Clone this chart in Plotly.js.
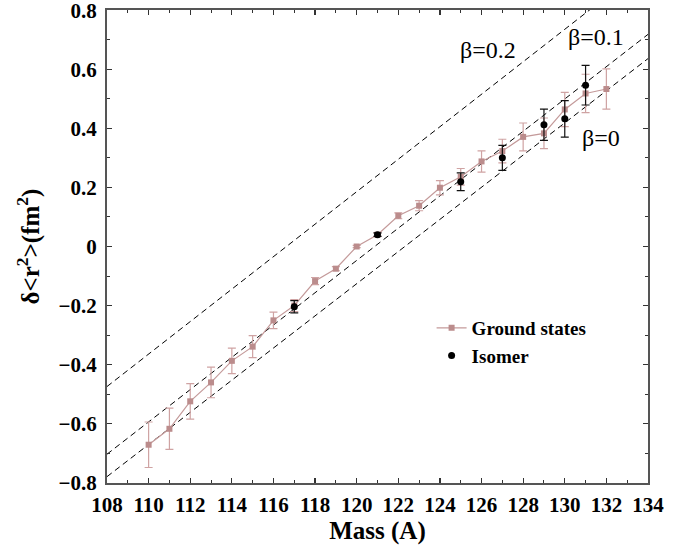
<!DOCTYPE html>
<html>
<head>
<meta charset="utf-8">
<script src="https://cdn.plot.ly/plotly-3.0.1.min.js"></script>
<style>html,body{margin:0;padding:0;background:#fff;}#chart{width:695px;height:550px;}</style>
</head>
<body>
<div id="chart"></div>
<script>
// Ground states
const groundMass = [110,111,112,113,114,115,116,117,118,119,120,121,122,123,124,125,126,127,128,129,130,131,132];
const groundVal  = [-0.671,-0.617,-0.524,-0.460,-0.387,-0.339,-0.250,-0.200,-0.117,-0.075,0.000,0.040,0.104,0.138,0.199,0.236,0.288,0.323,0.371,0.383,0.464,0.518,0.533];
const groundErr  = [0.077,0.070,0.060,0.052,0.043,0.037,0.028,0.020,0.012,0.007,0.004,0.006,0.010,0.017,0.024,0.028,0.036,0.040,0.047,0.052,0.058,0.065,0.068];
// Isomers
const isoMass = [117,121,125,127,129,130,131];
const isoVal  = [-0.204,0.040,0.219,0.300,0.412,0.432,0.546];
const isoErr  = [0.021,0.006,0.030,0.042,0.053,0.062,0.067];
// Reference lines (beta deformation)
const lineMass = [108,134];
const beta0  = [-0.779,0.636];
const beta01 = [-0.703,0.718];
const beta02 = [-0.474,0.955];
const betaLabels = ['β=0.2','β=0.1','β=0'];
// Tick labels
const xTickVals = [108,110,112,114,116,118,120,122,124,126,128,130,132,134];
const yTickVals = [-0.8,-0.6,-0.4,-0.2,0,0.2,0.4,0.6,0.8];
const yTickText = ['−0.8','−0.6','−0.4','−0.2','0','0.2','0.4','0.6','0.8'];

const serif = "'Liberation Serif', 'Times New Roman', serif";
const dashLine = {color:'#000', width:1, dash:'6px,4px'};
const tickFont = {family:serif, size:21, color:'#000', weight:'bold'};

const traces = [
  {x:lineMass, y:beta0, mode:'lines', line:dashLine, showlegend:false, hoverinfo:'skip'},
  {x:lineMass, y:beta01, mode:'lines', line:dashLine, showlegend:false, hoverinfo:'skip'},
  {x:lineMass, y:beta02, mode:'lines', line:dashLine, showlegend:false, hoverinfo:'skip'},
  {x:groundMass, y:groundVal, name:'Ground states', mode:'lines+markers',
   line:{color:'#c49a9a', width:1.2},
   marker:{symbol:'square', size:6, color:'#bb8c8c'},
   error_y:{type:'data', array:groundErr, visible:true, color:'#cfa3a3', thickness:1.2, width:4}},
  {x:isoMass, y:isoVal, name:'Isomer', mode:'markers',
   marker:{symbol:'circle', size:7, color:'#000'},
   error_y:{type:'data', array:isoErr, visible:true, color:'#111', thickness:1.2, width:4}}
];

const layout = {
  width:695, height:550,
  margin:{l:107, r:47, t:10, b:67},
  paper_bgcolor:'#fff', plot_bgcolor:'#fff',
  font:{family:serif, color:'#000', size:21},
  xaxis:{
    showline:true, linecolor:'#555', linewidth:2, mirror:'ticks',
    ticks:'inside', ticklen:5, tickwidth:1.2, tickcolor:'#333',
    showgrid:false, zeroline:false,
    tickfont:tickFont, ticklabelstandoff:2, ticklabeloverflow:'allow',
    range:[108,134], tickmode:'array', tickvals:xTickVals,
    ticktext:xTickVals.map(v => '<b>' + v + '</b>'),
    minor:{dtick:1, ticks:'inside', ticklen:3, tickcolor:'#333', tickwidth:1},
    title:{text:'<b>Mass (A)</b>', font:{family:serif, size:25, color:'#000'}, standoff:2}
  },
  yaxis:{
    showline:true, linecolor:'#555', linewidth:2, mirror:'ticks',
    ticks:'inside', ticklen:5, tickwidth:1.2, tickcolor:'#333',
    showgrid:false, zeroline:false,
    tickfont:tickFont, ticklabelstandoff:4, ticklabeloverflow:'allow',
    range:[-0.8005,0.8005], tickmode:'array', tickvals:yTickVals,
    ticktext:yTickText.map(t => '<b>' + t + '</b>'),
    minor:{dtick:0.1, tick0:0, ticks:'inside', ticklen:3, tickcolor:'#333', tickwidth:1},
    title:{text:'<b>δ<r<sup>2</sup>>(fm<sup>2</sup>)</b>', font:{family:serif, size:25, color:'#000'}, standoff:12}
  },
  legend:{x:0.6, y:0.368, xanchor:'left', yanchor:'top', bgcolor:'rgba(0,0,0,0)',
    font:{family:serif, size:19, color:'#000', weight:'bold'}, tracegroupgap:0},
  annotations:[
    {x:126.3, y:0.665, xref:'x', yref:'y', text:betaLabels[0], showarrow:false, font:{family:serif, size:24, color:'#000'}},
    {x:131.5, y:0.71, xref:'x', yref:'y', text:betaLabels[1], showarrow:false, font:{family:serif, size:24, color:'#000'}},
    {x:131.75, y:0.367, xref:'x', yref:'y', text:betaLabels[2], showarrow:false, font:{family:serif, size:24, color:'#000'}}
  ]
};

Plotly.newPlot('chart', traces, layout, {displayModeBar:false, staticPlot:true});
</script>
</body>
</html>
